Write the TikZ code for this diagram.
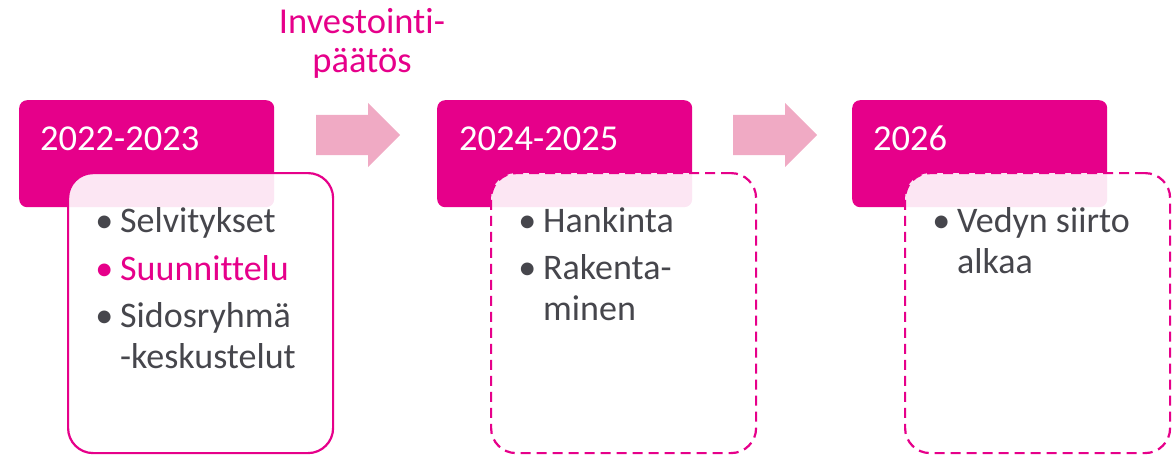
\documentclass[tikz,border=0pt]{standalone}
\usepackage{fontspec}
\setmainfont{Carlito}[Ligatures={NoCommon}]
\usetikzlibrary{shapes.arrows,positioning}
\definecolor{brandpink}{RGB}{230,0,138}
\definecolor{arrowpink}{RGB}{240,170,196}
\definecolor{textgray}{RGB}{70,70,76}
\newcommand{\bul}{\llap{\textbullet\hspace{7pt}}}

\begin{document}
\begin{tikzpicture}[x=1pt,y=-1pt,
  yearbox/.style={anchor=north west,fill=brandpink,rounded corners=8pt,minimum width=255pt,minimum height=107pt,inner sep=0pt},
  yeartext/.style={anchor=base west,text=white,font=\fontsize{36.5}{40}\selectfont,inner sep=0pt},
  stepbox/.style={anchor=north west,draw=brandpink,line width=2.2pt,fill=white,fill opacity=0.9,rounded corners=25pt,minimum width=265pt,minimum height=280pt,inner sep=0pt},
  planbox/.style={stepbox,dash pattern=on 10pt off 6pt},
  itemtext/.style={anchor=base west,text=textgray,align=left,font=\fontsize{36}{41}\selectfont,inner sep=0pt},
  bigarrow/.style={single arrow,fill=arrowpink,anchor=west,minimum height=84pt,inner xsep=0pt,inner ysep=20pt,single arrow head extend=12pt,single arrow head indent=0pt,shape border rotate=0}]
\useasboundingbox (0,0) rectangle (1173,455);
% year headers
\node[yearbox] (y1) at (19,100) {};
\node[yearbox] (y2) at (437,100) {};
\node[yearbox] (y3) at (852,100) {};
\node[yeartext] (t1) at (40,150) {2022-2023};
\node[yeartext] (t2) at (459,150) {2024-2025};
\node[yeartext] (t3) at (873,150) {2026};
% phase boxes
\node[stepbox] (s1) at (67,172) {};
\node[planbox] (s2) at (490,172) {};
\node[planbox] (s3) at (904,172) {};
% arrows between phases
\node[bigarrow] (a1) at (316,135) {};
\node[bigarrow] (a2) at (733,135) {};
\node[anchor=base,text=brandpink,align=center,font=\fontsize{36.5}{39}\selectfont,inner sep=0pt] (dec) at (362,72) {Investointi-\\päätös};
% items (multi-line nodes sit on their last line)
\node[itemtext] (i11) at (120,232) {\bul Selvitykset};
\node[itemtext,text=brandpink] (i12) at (120,280) {\bul Suunnittelu};
\node[itemtext] (i13) at (120,368) {\bul Sidosryhmä\\-keskustelut};
\node[itemtext] (i21) at (543,232) {\bul Hankinta};
\node[itemtext] (i22) at (543,320) {\bul Rakenta-\\minen};
\node[itemtext] (i31) at (957,273) {\bul Vedyn siirto\\alkaa};
\end{tikzpicture}
\end{document}
